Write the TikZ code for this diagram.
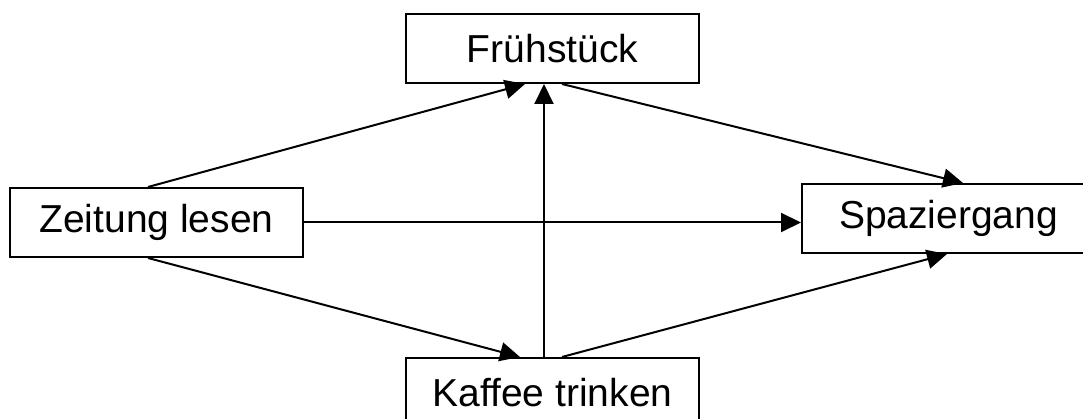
\documentclass[tikz,border=0pt]{standalone}
\usepackage{fontspec}
\setmainfont{Liberation Sans}
\usepackage{tikz}
\usetikzlibrary{arrows.meta}

\begin{document}
\begin{tikzpicture}[
        x=1pt, y=1pt,
        act/.style={rectangle, draw, line width=2pt, minimum width=293pt, minimum height=69pt,
          inner sep=0pt, align=center, font=\fontsize{39}{47}\selectfont},
        >={Triangle[length=20pt, width=19pt]},
        flow/.style={->, line width=2pt}
      ]

      \useasboundingbox (0,0) rectangle (1083,419);
      \clip (0,0) rectangle (1083,419);

      % activities
      \node[act] (fruh) at (552.5, 370.5) {Frühstück};
      \node[act] (zeit) at (156.5, 196.5) {Zeitung lesen};
      \node[act] (spaz) at (948.5, 200.5) {Spaziergang};
      \node[act] (kaff) at (552.5, 26.5) {Kaffee trinken};

      % order of the activities
      \draw[flow] ([xshift=-8.5pt]zeit.north) -- ([xshift=-27.5pt]fruh.south);
      \draw[flow] ([xshift=9.5pt]fruh.south) -- ([xshift=14.5pt]spaz.north);
      \draw[flow] (zeit.east) -- (zeit.east -| spaz.west);
      \draw[flow] ([xshift=-8.5pt]zeit.south) -- ([xshift=-32.5pt]kaff.north);
      \draw[flow] ([xshift=-8.5pt]kaff.north) -- ([xshift=-8.5pt]fruh.south);
      \draw[flow] ([xshift=9.5pt]kaff.north) -- ([xshift=-1.5pt]spaz.south);

    \end{tikzpicture}
\end{document}
